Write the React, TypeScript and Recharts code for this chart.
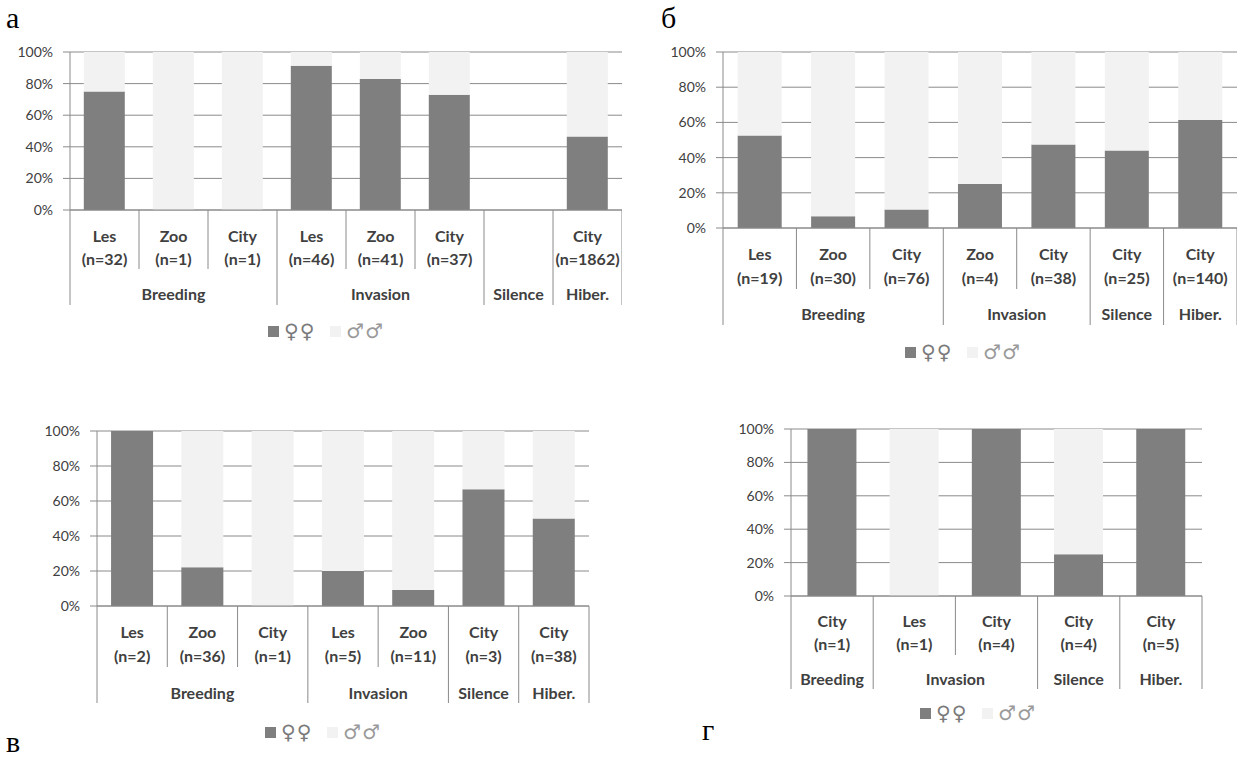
import React from "react";
import {
  BarChart,
  Bar,
  XAxis,
  YAxis,
  CartesianGrid,
  Legend,
} from "recharts";

// Share of females / males (%) per site, grouped by season stage.
// Panel а
const sitesA = ["Les", "Zoo", "City", "Les", "Zoo", "City", "", "City"];
const countsA = [32, 1, 1, 46, 41, 37, null, 1862];
const stagesA = ["Breeding", "Breeding", "Breeding", "Invasion", "Invasion", "Invasion", "Silence", "Hiber."];
const femaleA = [75, 0, 0, 91.3, 82.9, 73, 0, 46.5];
const maleA = [25, 100, 100, 8.7, 17.1, 27, 0, 53.5];

// Panel б
const sitesB = ["Les", "Zoo", "City", "Zoo", "City", "City", "City"];
const countsB = [19, 30, 76, 4, 38, 25, 140];
const stagesB = ["Breeding", "Breeding", "Breeding", "Invasion", "Invasion", "Silence", "Hiber."];
const femaleB = [52.6, 6.7, 10.5, 25, 47.4, 44, 61.4];
const maleB = [47.4, 93.3, 89.5, 75, 52.6, 56, 38.6];

// Panel в
const sitesV = ["Les", "Zoo", "City", "Les", "Zoo", "City", "City"];
const countsV = [2, 36, 1, 5, 11, 3, 38];
const stagesV = ["Breeding", "Breeding", "Breeding", "Invasion", "Invasion", "Silence", "Hiber."];
const femaleV = [100, 22.2, 0, 20, 9.1, 66.7, 50];
const maleV = [0, 77.8, 100, 80, 90.9, 33.3, 50];

// Panel г
const sitesG = ["City", "Les", "City", "City", "City"];
const countsG = [1, 1, 4, 4, 5];
const stagesG = ["Breeding", "Invasion", "Invasion", "Silence", "Hiber."];
const femaleG = [100, 0, 100, 25, 100];
const maleG = [0, 100, 0, 75, 0];

const percentTicks = [0, 20, 40, 60, 80, 100];

const DARK = "#7f7f7f";
const LIGHT = "#f2f2f2";
const LINE = "#8a8a8a";
const TEXT = "#404040";
const FONT = "Lato, 'Open Sans', sans-serif";

interface Layout {
  left: number;
  top: number;
  width: number;
  height: number;
  yAxisWidth: number;
  marginTop: number;
  marginRight: number;
  xAxisHeight: number;
  rowSite: number;
  rowCount: number;
  shortSep: number;
  rowStage: number;
  longSep: number;
  legendLeft: number;
  legendMid: number;
}

interface PanelProps {
  layout: Layout;
  sites: string[];
  counts: (number | null)[];
  stages: string[];
  female: number[];
  male: number[];
}

function StageAxisTick(props: any) {
  const { x, y, index, sites, counts, stages, band, layout } = props;
  const i = index as number;
  const left = x - band / 2;
  const first = i === 0 || stages[i - 1] !== stages[i];
  const last = i === stages.length - 1;
  let span = 0;
  if (first) {
    while (i + span < stages.length && stages[i + span] === stages[i]) span++;
  }
  const n = counts[i];
  return (
    <g>
      <line
        x1={left}
        x2={left}
        y1={y}
        y2={y + (first ? layout.longSep : layout.shortSep)}
        stroke={LINE}
      />
      {last && (
        <line x1={left + band} x2={left + band} y1={y} y2={y + layout.longSep} stroke={LINE} />
      )}
      {n != null && (
        <>
          <text x={x} y={y + layout.rowSite} textAnchor="middle" dominantBaseline="central"
            fill={TEXT} fontSize={16} fontWeight={700} fontFamily={FONT}>
            {sites[i]}
          </text>
          <text x={x} y={y + layout.rowCount} textAnchor="middle" dominantBaseline="central"
            fill={TEXT} fontSize={16} fontWeight={700} fontFamily={FONT}>
            {`(n=${n})`}
          </text>
        </>
      )}
      {first && (
        <text x={left + (span * band) / 2} y={y + layout.rowStage} textAnchor="middle"
          dominantBaseline="central" fill={TEXT} fontSize={16} fontWeight={700} fontFamily={FONT}>
          {stages[i]}
        </text>
      )}
    </g>
  );
}

function SexLegend() {
  const box = { display: "inline-block", width: 11, height: 11 };
  const sym = {
    marginLeft: 5,
    fontSize: 20,
    lineHeight: "20px",
    letterSpacing: 1,
    fontFamily: "'DejaVu Sans', sans-serif",
  };
  return (
    <div style={{ display: "flex", alignItems: "center", height: 20, whiteSpace: "nowrap" }}>
      <span style={{ ...box, background: DARK }} />
      <span style={{ ...sym, color: "#7a7a7a" }}>♀♀</span>
      <span style={{ ...box, background: LIGHT, marginLeft: 15 }} />
      <span style={{ ...sym, color: "#9a9a9a" }}>♂♂</span>
    </div>
  );
}

function SexRatioPanel({ layout, sites, counts, stages, female, male }: PanelProps) {
  const data = sites.map((site, i) => ({
    key: `${stages[i]}-${site}-${i}`,
    female: female[i],
    male: male[i],
  }));
  const plotWidth = layout.width - layout.yAxisWidth - layout.marginRight;
  const band = plotWidth / sites.length;

  return (
    <div style={{ position: "absolute", left: layout.left, top: layout.top }}>
      <BarChart
        width={layout.width}
        height={layout.height}
        data={data}
        margin={{ top: layout.marginTop, right: layout.marginRight, left: 0, bottom: 0 }}
        barCategoryGap="20%"
      >
        <CartesianGrid vertical={false} stroke={LINE} />
        <YAxis
          width={layout.yAxisWidth}
          domain={[0, 100]}
          ticks={percentTicks}
          tickFormatter={(v: number) => `${v}%`}
          axisLine={{ stroke: LINE }}
          tickLine={{ stroke: LINE }}
          tickSize={7}
          tickMargin={10}
          tick={{ fill: "#404040", fontSize: 14, fontFamily: FONT }}
        />
        <XAxis
          dataKey="key"
          height={layout.xAxisHeight}
          interval={0}
          axisLine={{ stroke: LINE }}
          tickLine={false}
          tickSize={0}
          tickMargin={0}
          tick={(p: any) => (
            <StageAxisTick
              {...p}
              sites={sites}
              counts={counts}
              stages={stages}
              band={band}
              layout={layout}
            />
          )}
        />
        <Legend
          layout="horizontal"
          verticalAlign="middle"
          align="center"
          content={() => <SexLegend />}
          wrapperStyle={{
            left: layout.legendLeft - layout.left,
            top: layout.legendMid - layout.top - 10,
            width: "auto",
          }}
        />
        <Bar dataKey="female" stackId="sex" fill={DARK} isAnimationActive={false} />
        <Bar dataKey="male" stackId="sex" fill={LIGHT} isAnimationActive={false} />
      </BarChart>
    </div>
  );
}

const layoutA: Layout = {
  left: 0, top: 0, width: 622, height: 345, yAxisWidth: 70, marginTop: 52, marginRight: 0,
  xAxisHeight: 135, rowSite: 25, rowCount: 48, shortSep: 59, rowStage: 83, longSep: 95,
  legendLeft: 268, legendMid: 331,
};
const layoutB: Layout = {
  left: 620, top: 0, width: 617, height: 370, yAxisWidth: 103, marginTop: 52, marginRight: 0,
  xAxisHeight: 142, rowSite: 25, rowCount: 49, shortSep: 61, rowStage: 85, longSep: 97,
  legendLeft: 905, legendMid: 352,
};
const layoutV: Layout = {
  left: 0, top: 380, width: 600, height: 380, yAxisWidth: 97, marginTop: 51, marginRight: 11,
  xAxisHeight: 154, rowSite: 25, rowCount: 49, shortSep: 61, rowStage: 86, longSep: 97,
  legendLeft: 265, legendMid: 732,
};
const layoutG: Layout = {
  left: 620, top: 380, width: 617, height: 380, yAxisWidth: 171, marginTop: 49, marginRight: 35,
  xAxisHeight: 164, rowSite: 24, rowCount: 47, shortSep: 59, rowStage: 82, longSep: 93,
  legendLeft: 920, legendMid: 713,
};

// Panel letters, placed by baseline
const panelLetters = [
  { text: "а", x: 6, y: 28 },
  { text: "б", x: 661, y: 28 },
  { text: "в", x: 6, y: 752 },
  { text: "г", x: 702, y: 740 },
];

export default function App() {
  return (
    <div
      style={{
        position: "absolute",
        left: 0,
        top: 0,
        width: 1237,
        height: 760,
        background: "#fff",
        overflow: "hidden",
      }}
    >
      <SexRatioPanel layout={layoutA} sites={sitesA} counts={countsA} stages={stagesA} female={femaleA} male={maleA} />
      <SexRatioPanel layout={layoutB} sites={sitesB} counts={countsB} stages={stagesB} female={femaleB} male={maleB} />
      <SexRatioPanel layout={layoutV} sites={sitesV} counts={countsV} stages={stagesV} female={femaleV} male={maleV} />
      <SexRatioPanel layout={layoutG} sites={sitesG} counts={countsG} stages={stagesG} female={femaleG} male={maleG} />
      <svg
        width={1237}
        height={760}
        style={{ position: "absolute", left: 0, top: 0, pointerEvents: "none" }}
      >
        {panelLetters.map((l) => (
          <text
            key={l.text}
            x={l.x}
            y={l.y}
            fontFamily="'Liberation Serif', 'DejaVu Serif', serif"
            fontSize={30}
            fill="#000"
          >
            {l.text}
          </text>
        ))}
      </svg>
    </div>
  );
}
